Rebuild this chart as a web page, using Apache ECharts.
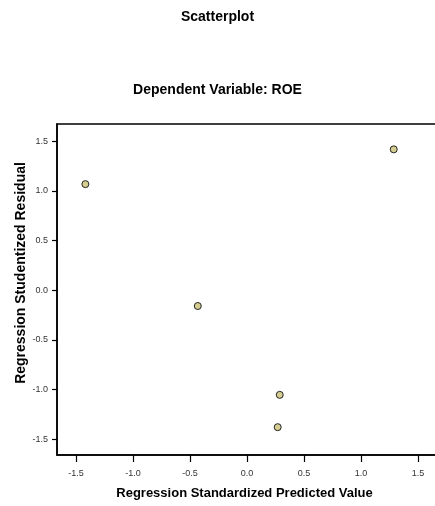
<!DOCTYPE html>
<html>
<head>
<meta charset="utf-8">
<script src="https://cdn.jsdelivr.net/npm/echarts@6/dist/echarts.min.js"></script>
<style>
html,body{margin:0;padding:0;background:#fff;}
#c{width:435px;height:506px;}
</style>
</head>
<body>
<div id="c"></div>
<script>
var predicted = [-1.418, -0.432, 0.287, 0.269, 1.287];
var residual = [1.067, -0.159, -1.053, -1.378, 1.417];
var xTicks = [-1.5, -1.0, -0.5, 0.0, 0.5, 1.0, 1.5];
var yTicks = [-1.5, -1.0, -0.5, 0.0, 0.5, 1.0, 1.5];
var mainTitle = "Scatterplot";
var subTitle = "Dependent Variable: ROE";
var xName = "Regression Standardized Predicted Value";
var yName = "Regression Studentized Residual";

var points = predicted.map(function (x, i) { return [x, residual[i]]; });
var FONT = '"Liberation Sans", Arial, sans-serif';

var chart = echarts.init(document.getElementById('c'), null, {renderer: 'canvas'});
chart.setOption({
  animation: false,
  backgroundColor: '#ffffff',
  title: [
    {text: mainTitle, left: 'center', top: 5,
     textStyle: {fontFamily: FONT, fontSize: 14, fontWeight: 'bold', color: '#000'}},
    {text: subTitle, left: 'center', top: 78,
     textStyle: {fontFamily: FONT, fontSize: 14, fontWeight: 'bold', color: '#000'}}
  ],
  graphic: [{
    type: 'text', x: 21, y: 273, rotation: Math.PI / 2,
    style: {text: yName, fontFamily: FONT, fontSize: 14, fontWeight: 'bold', fill: '#000',
            align: 'center', verticalAlign: 'middle'}
  }],
  grid: {left: 57, top: 124, right: -4, bottom: 51, show: true, outerBoundsMode: 'none',
         containLabel: false,
         borderColor: '#000', borderWidth: 1.5, backgroundColor: 'transparent'},
  xAxis: {
    type: 'value', min: -1.667, max: 1.684,
    name: xName, nameLocation: 'middle', nameGap: 32,
    nameTextStyle: {fontFamily: FONT, fontSize: 13, fontWeight: 'bold', color: '#000',
                    padding: [0, 7, 0, 0]},
    axisLine: {show: true, onZero: false, lineStyle: {color: '#000', width: 1.5}},
    axisTick: {show: true, length: 7, customValues: xTicks, lineStyle: {color: '#000', width: 1.2}},
    axisLabel: {customValues: xTicks, margin: 14, fontFamily: FONT, fontSize: 9, color: '#333',
                formatter: function (v) { return v.toFixed(1); }},
    splitLine: {show: false}
  },
  yAxis: {
    type: 'value', min: -1.658, max: 1.672,
    axisLine: {show: true, onZero: false, lineStyle: {color: '#000', width: 1.5}},
    axisTick: {show: true, length: 5, customValues: yTicks, lineStyle: {color: '#000', width: 1.2}},
    axisLabel: {customValues: yTicks, margin: 9, fontFamily: FONT, fontSize: 9, color: '#333',
                formatter: function (v) { return v.toFixed(1); }},
    splitLine: {show: false}
  },
  series: [{
    type: 'scatter',
    data: points,
    symbol: 'circle',
    symbolSize: 7,
    itemStyle: {color: '#d6cd90', borderColor: '#222', borderWidth: 1, opacity: 1}
  }]
});
</script>
</body>
</html>
